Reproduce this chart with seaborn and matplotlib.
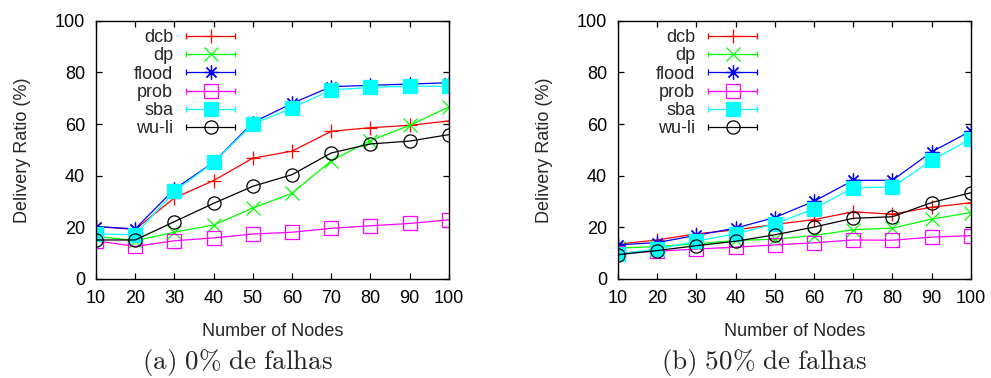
import numpy as np
import pandas as pd
import matplotlib
matplotlib.use("Agg")
import matplotlib.pyplot as plt
import seaborn as sns
from matplotlib.lines import Line2D
from matplotlib.legend_handler import HandlerLine2D, HandlerTuple

# ---------------- data ----------------
nodes = [10, 20, 30, 40, 50, 60, 70, 80, 90, 100]
series_names = ["dcb", "dp", "flood", "prob", "sba", "wu-li"]

# (a) 0% de falhas
a_dcb   = [20.3, 19.2, 31.4, 38.1, 46.8, 49.5, 57.2, 58.6, 59.5, 61.2]
a_dp    = [16.6, 14.8, 18.1, 20.9, 27.5, 33.2, 45.8, 53.6, 59.5, 66.6]
a_flood = [20.3, 19.4, 34.8, 45.2, 60.6, 68.0, 74.5, 75.0, 75.5, 76.0]
a_prob  = [14.8, 12.6, 14.8, 15.9, 17.4, 18.1, 19.6, 20.6, 21.5, 22.9]
a_sba   = [17.4, 17.2, 33.9, 45.2, 60.0, 66.2, 73.2, 74.2, 74.7, 74.6]
a_wuli  = [15.1, 15.1, 22.2, 29.3, 35.9, 40.4, 48.8, 52.3, 53.4, 55.9]

# (b) 50% de falhas
b_dcb   = [13.5, 15.1, 17.5, 19.0, 21.1, 23.0, 26.0, 25.1, 27.8, 29.5]
b_dp    = [12.0, 12.5, 13.6, 14.9, 15.4, 16.8, 19.1, 19.7, 23.2, 25.7]
b_flood = [13.2, 14.1, 16.9, 19.7, 23.8, 30.1, 38.2, 38.2, 49.2, 57.3]
b_prob  = [10.1, 10.7, 11.6, 12.3, 13.2, 14.0, 15.1, 15.0, 16.2, 16.8]
b_sba   = [9.7, 11.6, 14.6, 17.5, 21.3, 27.2, 35.3, 35.6, 45.9, 54.3]
b_wuli  = [9.4, 11.0, 12.9, 14.6, 17.1, 20.1, 23.5, 24.1, 29.6, 33.4]

x_ticks = [10, 20, 30, 40, 50, 60, 70, 80, 90, 100]
y_ticks = [0, 20, 40, 60, 80, 100]
x_label = "Number of Nodes"
y_label = "Delivery Ratio (%)"
captions = [r"$\mathrm{(a)\ 0\%\ de\ falhas}$", r"$\mathrm{(b)\ 50\%\ de\ falhas}$"]

panel_a = dict(zip(series_names, [a_dcb, a_dp, a_flood, a_prob, a_sba, a_wuli]))
panel_b = dict(zip(series_names, [b_dcb, b_dp, b_flood, b_prob, b_sba, b_wuli]))

# ---------------- style ----------------
sns.set_style("ticks")
plt.rcParams["font.family"] = ["Liberation Sans", "DejaVu Sans"]
plt.rcParams["mathtext.fontset"] = "cm"

styles = {
    "dcb":   dict(color="#ff0000", marker="+", ms=10, mfc="#ff0000"),
    "dp":    dict(color="#00ff00", marker="x", ms=9.5, mfc="#00ff00"),
    "flood": dict(color="#0000ff", marker=(8, 2, 0), ms=10, mfc="#0000ff"),
    "prob":  dict(color="#ff00ff", marker="s", ms=9.5, mfc="none"),
    "sba":   dict(color="#00ffff", marker="s", ms=9.5, mfc="#00ffff"),
    "wu-li": dict(color="#000000", marker="o", ms=9.5, mfc="none"),
}

fig = plt.figure(figsize=(9.91, 3.78), dpi=100)
ax_a = fig.add_axes([0.0969, 0.262, 0.356, 0.683])
ax_b = fig.add_axes([0.6236, 0.262, 0.356, 0.683])

FS = 13

for ax, panel, cap, capx in [(ax_a, panel_a, captions[0], 0.240),
                             (ax_b, panel_b, captions[1], 0.771)]:
    handles = []
    hmap = {}
    for name in series_names:
        st = styles[name]
        df = pd.DataFrame({"x": nodes, "y": panel[name]})
        sns.lineplot(data=df, x="x", y="y", ax=ax, color=st["color"],
                     marker=st["marker"], markersize=st["ms"],
                     markerfacecolor=st["mfc"], markeredgecolor=st["color"],
                     markeredgewidth=0.9, linewidth=0.9, errorbar=None,
                     legend=False)
        main = Line2D([], [], color=st["color"], marker=st["marker"],
                      markersize=st["ms"], markerfacecolor=st["mfc"],
                      markeredgecolor=st["color"], markeredgewidth=0.9,
                      linewidth=0.9)
        caps = Line2D([], [], color=st["color"], marker="|", markersize=4,
                      markeredgewidth=0.9, linestyle="none")
        hmap[caps] = HandlerLine2D(numpoints=2, marker_pad=0)
        handles.append((main, caps))
    hmap[tuple] = HandlerTuple(ndivide=1)
    leg = ax.legend(handles, series_names, handler_map=hmap,
                    loc="upper right", bbox_to_anchor=(0.394, 0.968),
                    frameon=False, markerfirst=False, numpoints=1,
                    fontsize=FS, handlelength=2.7, handletextpad=0.72,
                    labelspacing=0.07, borderpad=0, borderaxespad=0)

    ax.set_xlim(10, 100)
    ax.set_ylim(0, 100)
    ax.set_xticks(x_ticks)
    ax.set_yticks(y_ticks)
    ax.tick_params(direction="in", top=True, right=True, length=4, width=0.9,
                   labelsize=FS, pad=8, colors="black")
    ax.set_xlabel(x_label, fontsize=FS, labelpad=11.5)
    ax.set_ylabel(y_label, fontsize=FS, labelpad=17)
    for sp in ax.spines.values():
        sp.set_visible(True)
        sp.set_linewidth(1.0)
        sp.set_color("black")
    fig.text(capx, 0.042, cap, ha="center", va="center", fontsize=19.5)

fig.savefig("out.png", dpi=100)
